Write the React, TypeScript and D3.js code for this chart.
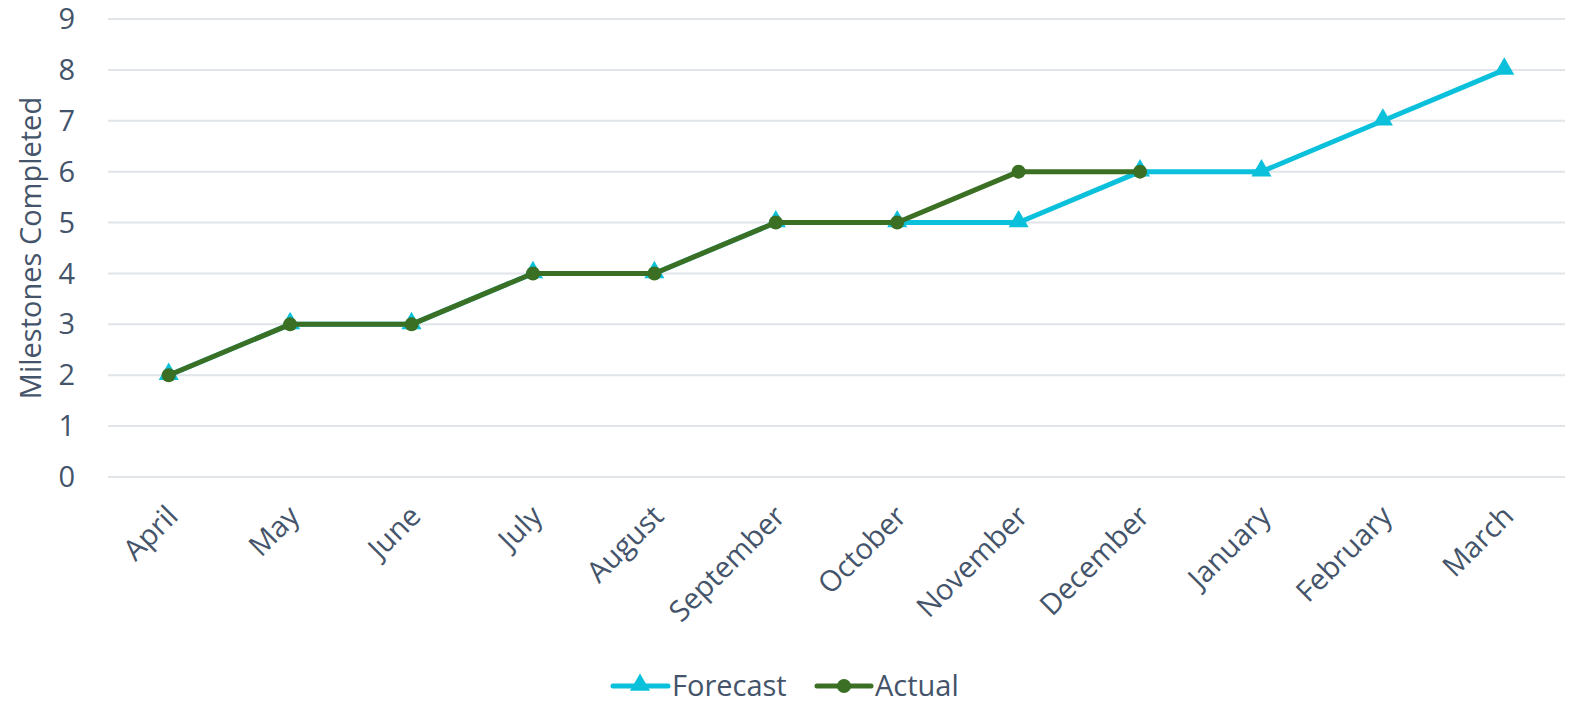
import React from "react";
import * as d3 from "d3";

const months = [
  "April", "May", "June", "July", "August", "September",
  "October", "November", "December", "January", "February", "March",
];
const forecast = [2, 3, 3, 4, 4, 5, 5, 5, 6, 6, 7, 8];
const actual = [2, 3, 3, 4, 4, 5, 5, 6, 6];
const yTicks = [0, 1, 2, 3, 4, 5, 6, 7, 8, 9];

const FORECAST = "#0BC0DB";
const ACTUAL = "#3B7024";
const TEXT = "#44546A";
const FONT = "'Open Sans', 'Noto Sans', sans-serif";
const FS = 29;

export default function App() {
  const width = 1569;
  const height = 701;
  const left = 108;
  const right = 1565;
  const top = 19;
  const bottom = 477;

  const x = d3.scaleBand<string>().domain(months).range([left, right]);
  const cx = (m: string) => (x(m) ?? 0) + x.bandwidth() / 2;
  const y = d3.scaleLinear().domain([0, 9]).range([bottom, top]);

  const line = d3
    .line<number>()
    .x((_, i) => cx(months[i]))
    .y((d) => y(d));

  const tri = d3.symbol().type(d3.symbolTriangle).size(175)();

  return (
    <svg
      width={width}
      height={height}
      style={{ position: "absolute", left: 0, top: 0, background: "#fff" }}
      fontFamily={FONT}
    >
      {yTicks.map((t) => (
        <g key={t}>
          <line x1={left} x2={right} y1={y(t)} y2={y(t)} stroke="#E1E4E8" strokeWidth={2} />
          <text x={75} y={y(t)} dy="0.35em" textAnchor="end" fontSize={FS} fill={TEXT}>
            {t}
          </text>
        </g>
      ))}

      <text
        transform={`translate(41,${(top + bottom) / 2}) rotate(-90)`}
        textAnchor="middle"
        fontSize={FS}
        fill={TEXT}
      >
        Milestones Completed
      </text>

      {months.map((m) => (
        <text
          key={m}
          transform={`translate(${cx(m) + 11},${518}) rotate(-45)`}
          textAnchor="end"
          fontSize={FS}
          fill={TEXT}
        >
          {m}
        </text>
      ))}

      <path d={line(forecast) ?? ""} fill="none" stroke={FORECAST} strokeWidth={5} strokeLinejoin="round" />
      {forecast.map((v, i) => (
        <path key={i} d={tri ?? ""} transform={`translate(${cx(months[i])},${y(v) - 1})`} fill={FORECAST} />
      ))}

      <path d={line(actual) ?? ""} fill="none" stroke={ACTUAL} strokeWidth={5} strokeLinejoin="round" />
      {actual.map((v, i) => (
        <circle key={i} cx={cx(months[i])} cy={y(v)} r={7} fill={ACTUAL} />
      ))}

      <g transform="translate(0,686)">
        <line x1={613} x2={668} y1={0} y2={0} stroke={FORECAST} strokeWidth={5} strokeLinecap="round" />
        <path d={tri ?? ""} transform="translate(640,-1)" fill={FORECAST} />
        <text x={672} y={0} dy="0.35em" fontSize={FS} fill={TEXT}>Forecast</text>
        <line x1={817} x2={871} y1={0} y2={0} stroke={ACTUAL} strokeWidth={5} strokeLinecap="round" />
        <circle cx={844} cy={0} r={7} fill={ACTUAL} />
        <text x={875} y={0} dy="0.35em" fontSize={FS} fill={TEXT}>Actual</text>
      </g>
    </svg>
  );
}
